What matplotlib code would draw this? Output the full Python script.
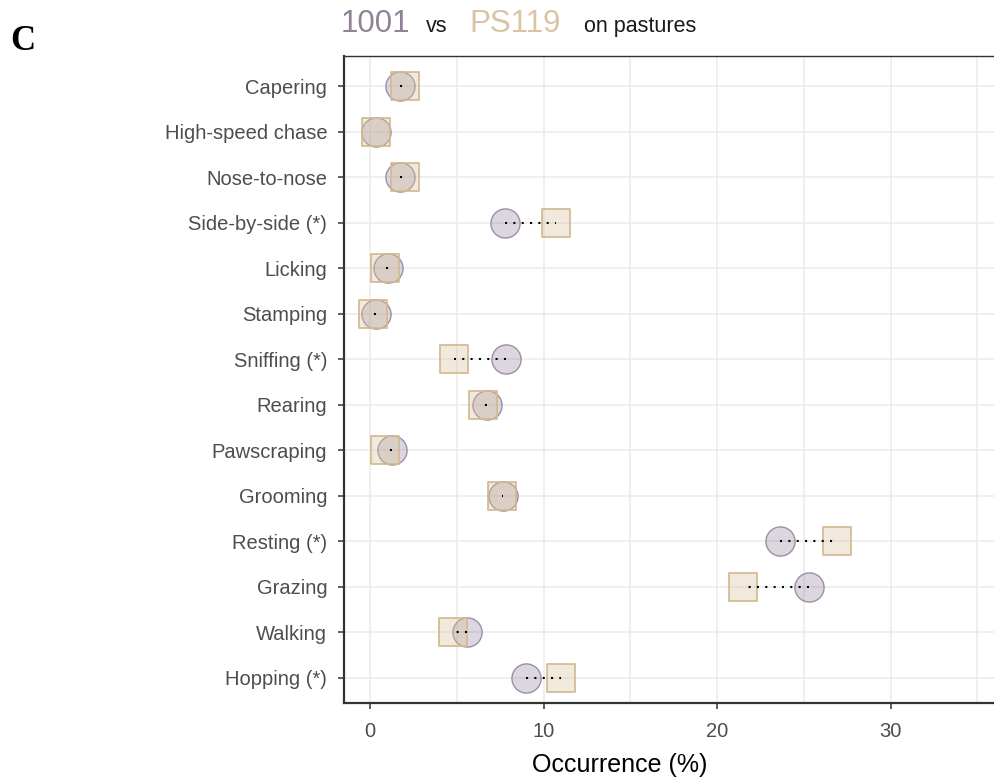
import numpy as np
import matplotlib.pyplot as plt
from matplotlib.ticker import MultipleLocator

plt.rcParams['font.family'] = ['Liberation Sans', 'DejaVu Sans']

# behaviours, top to bottom
behaviours = ['Capering', 'High-speed chase', 'Nose-to-nose', 'Side-by-side (*)',
              'Licking', 'Stamping', 'Sniffing (*)', 'Rearing', 'Pawscraping',
              'Grooming', 'Resting (*)', 'Grazing', 'Walking', 'Hopping (*)']
# occurrence (%) for each strain
occ_1001 = [1.7, 0.32, 1.7, 7.8, 1.05, 0.35, 7.85, 6.76, 1.27, 7.68, 23.6, 25.3, 5.6, 9.0]
occ_ps119 = [2.0, 0.32, 2.0, 10.7, 0.87, 0.18, 4.82, 6.5, 0.87, 7.58, 26.9, 21.5, 4.8, 11.0]

col_1001 = '#8f8296'
col_ps119 = '#d9c4a3'

fig = plt.figure(figsize=(9.94, 7.8), dpi=100)
# panel runs past the right edge of the picture (cropped figure)
ax = fig.add_axes([0.3461, 0.0987, 0.6739, 0.8295])

n = len(behaviours)
ypos = np.arange(n)[::-1] + 1

for y, a, b in zip(ypos, occ_1001, occ_ps119):
    ax.plot([a, b], [y, y], color='black', lw=1.5, linestyle=(0, (1, 3.0)), zorder=5)

ax.scatter(occ_1001, ypos, s=21 ** 2, marker='o', facecolor=(0.61, 0.54, 0.65, 0.35),
           edgecolor=(0.54, 0.47, 0.59, 0.8), linewidth=1.0, zorder=3)
ax.scatter(occ_ps119, ypos, s=20 ** 2, marker='s', facecolor=(0.85, 0.76, 0.61, 0.35),
           edgecolor=(0.82, 0.73, 0.56, 0.95), linewidth=1.3, zorder=4)

ax.set_xlim(-1.5, 37.1)
ax.set_ylim(0.45, n + 0.66)
ax.set_yticks(ypos)
ax.set_yticklabels(behaviours)
ax.xaxis.set_major_locator(MultipleLocator(10))
ax.xaxis.set_minor_locator(MultipleLocator(5))

ax.grid(True, which='major', color='#ebebeb', lw=1.1, zorder=0)
ax.grid(True, which='minor', axis='x', color='#ebebeb', lw=1.1, zorder=0)
ax.set_axisbelow(True)

ax.spines['right'].set_visible(False)
ax.spines['top'].set_color('#333333')
ax.spines['top'].set_linewidth(1.0)
for side in ['left', 'bottom']:
    ax.spines[side].set_color('#333333')
    ax.spines[side].set_linewidth(1.6)

ax.tick_params(axis='both', which='major', length=4, width=1.1, color='#333333',
               labelcolor='#4d4d4d', labelsize=14.5)
ax.tick_params(axis='y', pad=8)
ax.tick_params(axis='x', pad=9.5)
ax.tick_params(axis='x', which='minor', length=0)

fig.text(620 / 994, 0.01, 'Occurrence (%)', fontsize=18, color='black',
         ha='center', va='baseline')

# coloured title built from pieces
fig.text(0.343, 0.959, '1001', fontsize=22.5, color=col_1001, va='baseline', ha='left')
fig.text(0.4285, 0.959, 'vs', fontsize=15.5, color='#1a1a1a', va='baseline', ha='left')
fig.text(0.472, 0.959, 'PS119', fontsize=22.5, color=col_ps119, va='baseline', ha='left')
fig.text(0.5875, 0.959, 'on pastures', fontsize=15.5, color='#1a1a1a', va='baseline', ha='left')

fig.text(0.01, 0.947, 'C', fontsize=25, fontweight='bold', family='Liberation Serif',
         va='center', ha='left')

fig.savefig('out.png', dpi=100)
